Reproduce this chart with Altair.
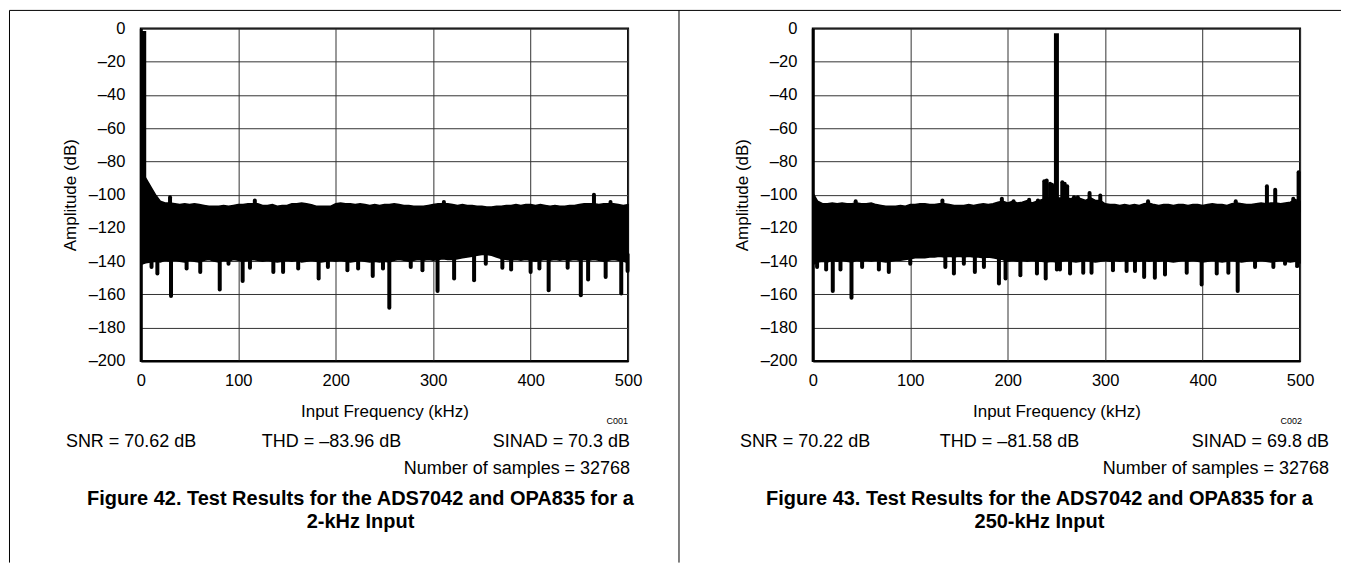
import altair as alt
import pandas as pd

FONT = "Liberation Sans, Arial, Helvetica, sans-serif"

# frequency grid (kHz) for the noise-floor envelope readings
FREQ = list(range(0, 505, 5))

# ---------------- Figure 42 (2-kHz input) ----------------
L_TOP = [-88, -90, -95, -100, -104, -105, -105, -105.5, -106, -105.5,
         -106, -105.5, -106, -106.5, -107, -107, -107, -106.5, -107, -106.5,
         -106, -106, -105.5, -105.5, -105.5, -106.5, -106.5, -106, -107, -106.5,
         -106.5, -105.5, -105.5, -105, -105.5, -106, -107, -107, -107, -107,
         -105.5, -105, -105.5, -105.5, -106, -105.5, -106, -106.5, -106, -106.5,
         -106, -106, -105.5, -106, -106.5, -106.5, -107, -107, -107, -106.5,
         -106, -105.5, -105.5, -105.5, -106, -106.5, -106, -106.5, -106.5, -107,
         -107, -107.5, -107.5, -107, -107, -106.5, -106.5, -106, -106.5, -106,
         -106, -106.5, -106, -106.5, -107, -106.5, -107, -107, -106.5, -106.5,
         -106, -105.5, -105.5, -105.5, -106, -105.5, -105.5, -105.5, -106, -106.5,
         -106]
L_BOT = [-142, -141, -140.5, -140, -140.5, -139.5, -140, -139.5, -140, -140.5,
         -139.5, -140, -140.5, -139.5, -139, -140, -140.5, -139.5, -140, -139,
         -139.5, -140, -139.5, -139, -139.5, -140, -139.5, -140, -140.5, -140,
         -139.5, -140, -139.5, -140.5, -140, -139.5, -140, -140.5, -140, -139.5,
         -140, -139.5, -140, -140.5, -140, -139.5, -140, -140.5, -140, -140.5,
         -140, -140.5, -139.5, -139, -139.5, -140, -139.5, -139, -139.5, -139,
         -139.5, -139, -138.5, -139, -139, -138.5, -138, -137.5, -137, -136.5,
         -136, -136, -136.5, -137.5, -138.5, -139, -139.5, -139, -139.5, -139,
         -139.5, -140, -139.5, -139, -139.5, -139, -139.5, -139, -139.5, -139,
         -139.5, -139, -139.5, -139, -139.5, -140, -139.5, -139, -139.5, -140,
         -141]
L_DN_F = [11, 17, 31, 47, 61, 81, 90, 104.5, 112, 136, 146, 161.5, 182.5, 192,
          212, 223, 238, 248.5, 255, 277, 289, 304.5, 321.5, 342, 354, 371, 380,
          400, 409, 418.5, 438, 451.5, 459, 477, 493, 499.5]
L_DN_V = [-143.5, -147.5, -161, -144.5, -146.5, -157, -141.5, -152, -144, -146.5,
          -146.5, -144.5, -150.5, -143.5, -145.5, -144.5, -149, -144.5, -168,
          -143.5, -145.5, -158, -150.5, -151.5, -141.5, -144, -145, -146.5, -144.5,
          -157.5, -144, -160.5, -151, -149.5, -159.5, -146]
L_UP_F = [30, 117, 311, 465, 482]
L_UP_V = [-101.5, -103.5, -104.5, -100, -104.5]
L_FUND_F = [3]
L_FUND_V = [-1.5]

# ---------------- Figure 43 (250-kHz input) ----------------
R_TOP = [-99, -104, -105.5, -105.5, -105, -105.5, -105, -105.5, -105.5, -105,
         -105.5, -105.5, -105, -106, -106.5, -107, -107, -107, -106.5, -107,
         -106, -106, -105.5, -105.5, -106, -106, -105.5, -105.5, -106, -106.5,
         -106.5, -106.5, -106, -106.5, -106, -105.5, -106, -105.5, -104.5, -104,
         -105, -104, -105, -104.5, -103.5, -105, -104, -103, -102, -102,
         -102, -102, -102, -102.5, -101.5, -102.5, -103.5, -102, -103.5, -103.5,
         -105.5, -106, -106, -106.5, -106, -106.5, -106, -106.5, -105.5, -105,
         -106, -106.5, -106, -106, -106.5, -106, -106, -106.5, -106, -106,
         -106.5, -106, -105.5, -106, -106, -106.5, -105.5, -105, -105.5, -106,
         -106, -105.5, -105, -105.5, -105, -105, -105.5, -105, -104.5, -103,
         -104]
R_BOT = [-142, -140.5, -140, -140.5, -139.5, -140, -139.5, -140, -140.5, -139.5,
         -140, -139.5, -140, -139.5, -140, -140.5, -140, -139.5, -139.5, -139,
         -138.5, -138, -138, -138, -137.5, -137.5, -137, -137.5, -137, -137.5,
         -137, -137.5, -137, -137.5, -137.5, -138, -137.5, -138, -138.5, -139,
         -140, -139.5, -140, -139.5, -140, -139.5, -140, -140, -140.5, -140,
         -140.5, -140, -139.5, -140, -140.5, -140, -139.5, -140, -140.5, -140,
         -139.5, -140, -139.5, -140, -139.5, -140, -139.5, -140, -139.5, -140,
         -139.5, -140, -139.5, -140, -140.5, -140, -139.5, -140, -139.5, -140,
         -140.5, -140, -139.5, -140, -140.5, -140, -139.5, -140, -140.5, -140,
         -139.5, -140, -139.5, -140, -140.5, -140, -139.5, -140, -140.5, -140,
         -141]
R_DN_F = [4.4, 13.7, 20.5, 28.4, 39.7, 50.6, 67.8, 78, 100, 136, 144.8, 155, 166.3,
          175.6, 191, 197.8, 213, 230, 239, 250.5, 253.6, 264, 277.5, 286, 308, 322,
          330.6, 340, 351, 361.4, 383.7, 399, 414.5, 426.4, 436, 453.8, 472.6, 484.6, 497]
R_DN_V = [-143.5, -145, -158, -145, -162, -143.5, -145, -146.5, -141.5, -143.5,
          -147.5, -141.5, -146.5, -143.5, -153.5, -150.5, -148.5, -147.5, -150.5,
          -145, -145, -147.5, -147, -147, -145.5, -146, -146, -149.5, -150, -148,
          -147, -154, -147.5, -147, -158, -143.5, -143.5, -141.5, -143]
R_UP_F = [44, 133, 194, 206, 222, 231, 237.5, 240, 243.5, 245.5, 256, 258.5, 261,
          268, 272, 284, 295, 344, 434, 466, 474.5, 493, 498.5]
R_UP_V = [-104, -103.5, -102.5, -104, -103, -103.5, -92, -91.5, -93.5, -94, -92.5,
          -93.5, -95, -101.5, -101.5, -99, -100.5, -104, -104, -95, -97, -102.5, -86.5]
R_FUND_F = [250]
R_FUND_V = [-3]

X_TICKS = [0, 100, 200, 300, 400, 500]
Y_TICKS = list(range(-200, 1, 20))

W, H = 488, 333
ONE = pd.DataFrame({"k": [0]})


def txt(s, x, y, size, align="left", weight="normal"):
    return alt.Chart(ONE).mark_text(
        text=s, align=align, baseline="middle", fontSize=size,
        fontWeight=weight, font=FONT, color="black"
    ).encode(x=alt.value(x), y=alt.value(y))


def rule(x, x2, y, y2, w=1):
    return alt.Chart(ONE).mark_rule(color="black", strokeWidth=w).encode(
        x=alt.value(x), x2=alt.value(x2), y=alt.value(y), y2=alt.value(y2))


def panel(top, bot, dn_f, dn_v, up_f, up_v, fund_f, fund_v, texts, extra):
    xs = alt.Scale(domain=[0, 500], nice=False, zero=False)
    ys = alt.Scale(domain=[-200, 0], nice=False, zero=False)
    xax = alt.Axis(values=X_TICKS, title="Input Frequency (kHz)", labelFlush=False,
                   labelPadding=12, titleX=W / 2, titleY=51, titleBaseline="middle",
                   domainWidth=2)
    yax = alt.Axis(values=Y_TICKS, title="Amplitude (dB)", labelPadding=16,
                   labelExpr="datum.value == 0 ? '0' : '\u2013' + abs(datum.value)",
                   titleX=-70, titleY=H / 2, titleBaseline="middle", titleAlign="center",
                   domainWidth=3)
    X = lambda: alt.X("f:Q", scale=xs, axis=xax, title="Input Frequency (kHz)")
    Y = lambda: alt.Y("v:Q", scale=ys, axis=yax, title="Amplitude (dB)")
    band = pd.DataFrame({"f": FREQ, "v": top, "bot": bot})
    area = alt.Chart(band).mark_area(color="black", stroke="black", strokeWidth=1.5).encode(
        x=X(), y=Y(), y2="bot:Q",
    )
    dn = pd.DataFrame({"f": dn_f, "v": dn_v})
    down = alt.Chart(dn).mark_rule(color="black", strokeWidth=4, strokeCap="round").encode(
        x=X(), y=Y(), y2=alt.datum(-136),
    )
    upd = pd.DataFrame({"f": up_f, "v": up_v})
    up = alt.Chart(upd).mark_rule(color="black", strokeWidth=4, strokeCap="round").encode(
        x=X(), y=Y(), y2=alt.datum(-110),
    )
    fd = pd.DataFrame({"f": fund_f, "v": fund_v})
    fund = alt.Chart(fd).mark_rule(color="black", strokeWidth=5, strokeCap="butt").encode(
        x=X(), y=Y(), y2=alt.datum(-120),
    )
    layers = [area, down, up, fund] + [txt(*t) for t in texts] + extra
    return alt.layer(*layers).properties(width=W, height=H)


texts1 = [
    ("SNR = 70.62 dB", -75, 414, 18, "left"),
    ("THD = \u201383.96 dB", 191, 414, 18, "center"),
    ("SINAD = 70.3 dB", 490, 414, 18, "right"),
    ("Number of samples = 32768", 490, 441, 18, "right"),
    ("C001", 488, 393, 9, "right"),
    ("Figure 42. Test Results for the ADS7042 and OPA835 for a", 220, 471, 20, "center", "bold"),
    ("2-kHz Input", 220, 494, 20, "center", "bold"),
]
texts2 = [
    ("SNR = 70.22 dB", -73, 414, 18, "left"),
    ("THD = \u201381.58 dB", 197, 414, 18, "center"),
    ("SINAD = 69.8 dB", 517, 414, 18, "right"),
    ("Number of samples = 32768", 517, 441, 18, "right"),
    ("C002", 490, 393, 9, "right"),
    ("Figure 43. Test Results for the ADS7042 and OPA835 for a", 227, 471, 20, "center", "bold"),
    ("250-kHz Input", 227, 494, 20, "center", "bold"),
]

borders = [
    rule(-131.5, 1202, -18, -18),     # page top line
    rule(-131.5, -131.5, -18, 535),   # page left line
    rule(539, 539, -18, 535),         # divider between figures
]

p1 = panel(L_TOP, L_BOT, L_DN_F, L_DN_V, L_UP_F, L_UP_V, L_FUND_F, L_FUND_V, texts1, borders)
p2 = panel(R_TOP, R_BOT, R_DN_F, R_DN_V, R_UP_F, R_UP_V, R_FUND_F, R_FUND_V, texts2, [])

chart = alt.hconcat(p1, p2, spacing=185, bounds="flush").properties(
    padding=0, background="white"
).configure_view(
    stroke="black", strokeWidth=2
).configure_axis(
    labelFont=FONT, titleFont=FONT, labelFontSize=16.5, titleFontSize=17,
    labelColor="black", titleColor="black", titleFontWeight="normal",
    gridColor="#333333", gridWidth=1, ticks=False, tickSize=0,
    domainColor="black",
)

chart.save("out.html", embed_options={"renderer": "svg", "actions": False})
